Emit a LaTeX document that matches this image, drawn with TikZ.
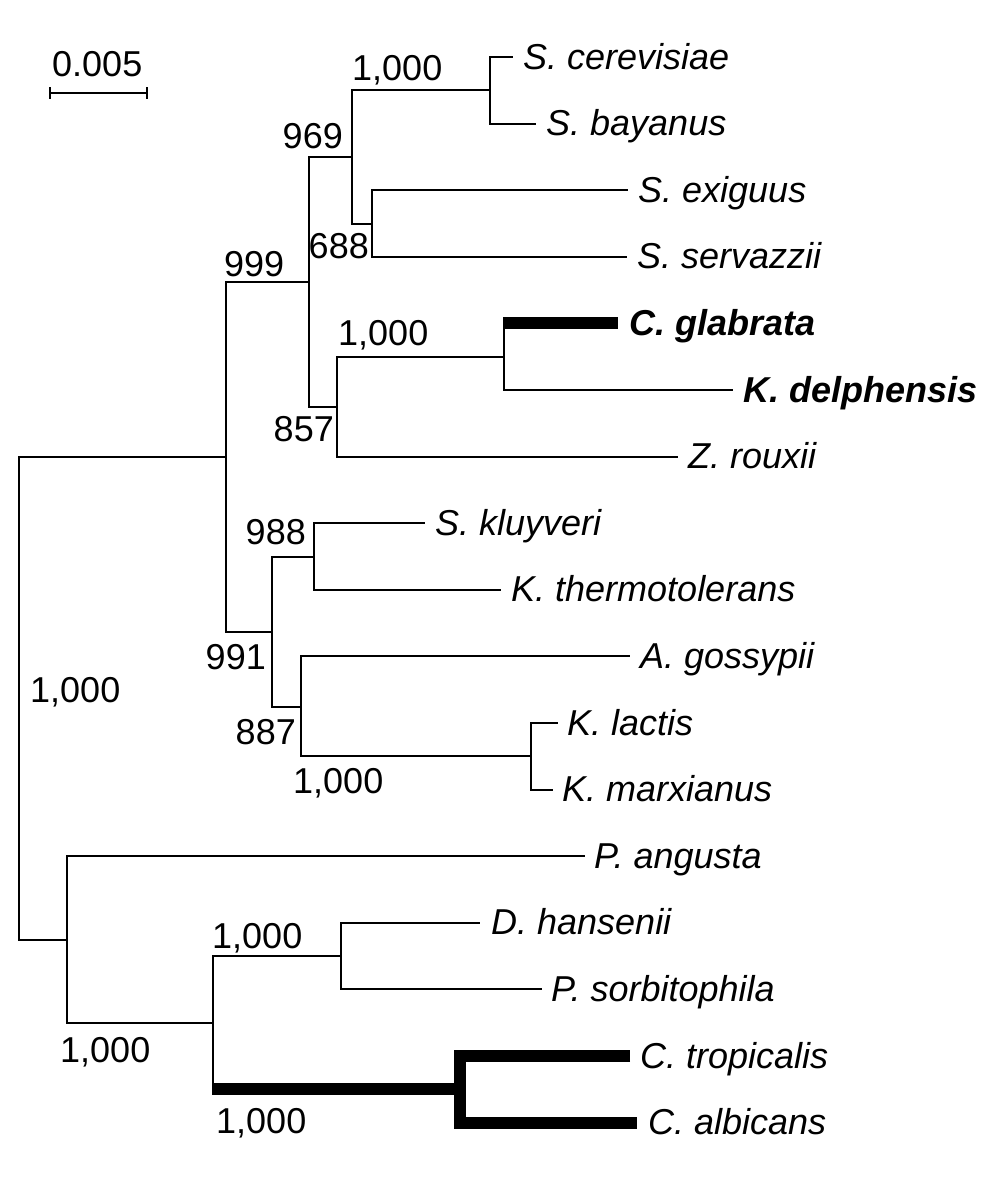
\documentclass[tikz,border=0pt]{standalone}
\usepackage{fontspec}
\setmainfont{Liberation Sans}
\begin{document}
\begin{tikzpicture}[x=1pt,y=-1pt,
  br/.style={line width=2pt, line join=miter, line cap=butt},
  thk/.style={line width=12pt, line join=miter, line cap=butt},
  leaf/.style={inner sep=0pt, anchor=base west, font=\fontsize{36}{43}\selectfont\itshape},
  bleaf/.style={leaf, font=\fontsize{36}{43}\selectfont\bfseries\itshape},
  lab/.style={inner sep=0pt, font=\fontsize{36}{43}\selectfont}]
\useasboundingbox (0,0) rectangle (1000,1186);
% internal nodes
\coordinate (root) at (19,698);
\coordinate (up) at (226,457);
\coordinate (lo) at (67,940);
\coordinate (n999) at (309,282);
\coordinate (n969) at (352,157);
\coordinate (nSS) at (490,90.3);
\coordinate (n688) at (372,223.5);
\coordinate (n857) at (337,406.8);
\coordinate (nCK) at (504,356.7);
\coordinate (n991) at (272,631.5);
\coordinate (n988) at (314,556.5);
\coordinate (n887) at (301,706.5);
\coordinate (nKL) at (531,756.3);
\coordinate (nDC) at (213,1023);
\coordinate (nDP) at (341,956.1);
\coordinate (nCC) at (460,1089);
% leaf tips
\coordinate (cer) at (513,57);
\coordinate (bay) at (536,123.6);
\coordinate (exi) at (628,190.2);
\coordinate (ser) at (627,256.8);
\coordinate (gla) at (618,323.4);
\coordinate (del) at (733,390);
\coordinate (zro) at (678,456.6);
\coordinate (kly) at (425,523.2);
\coordinate (the) at (501,589.8);
\coordinate (gos) at (630,656.4);
\coordinate (lac) at (558,723);
\coordinate (mar) at (553,789.6);
\coordinate (ang) at (585,856.2);
\coordinate (han) at (480,922.8);
\coordinate (sor) at (542,989.4);
\coordinate (tro) at (630,1056);
\coordinate (alb) at (637,1122.6);
% branches
\draw[br] (root) |- (up);
\draw[br] (root) |- (lo);
\draw[br] (up) |- (n999);
\draw[br] (up) |- (n991);
\draw[br] (n999) |- (n969);
\draw[br] (n999) |- (n857);
\draw[br] (n969) |- (nSS);
\draw[br] (n969) |- (n688);
\draw[br] (nSS) |- (cer);
\draw[br] (nSS) |- (bay);
\draw[br] (n688) |- (exi);
\draw[br] (n688) |- (ser);
\draw[br] (n857) |- (nCK);
\draw[br] (n857) |- (zro);
\draw[br] (nCK) -- (nCK |- gla);
\draw[thk] ([xshift=-1pt]nCK |- gla) -- (gla);
\draw[br] (nCK) |- (del);
\draw[br] (n991) |- (n988);
\draw[br] (n991) |- (n887);
\draw[br] (n988) |- (kly);
\draw[br] (n988) |- (the);
\draw[br] (n887) |- (gos);
\draw[br] (n887) |- (nKL);
\draw[br] (nKL) |- (lac);
\draw[br] (nKL) |- (mar);
\draw[br] (lo) |- (ang);
\draw[br] (lo) |- (nDC);
\draw[br] (nDC) |- (nDP);
\draw[br] (nDC) -- (nDC |- nCC);
\draw[thk] ([xshift=-1pt]nDC |- nCC) -- (nCC);
\draw[thk] (tro) -| (nCC) |- (alb);
\draw[br] (nDP) |- (han);
\draw[br] (nDP) |- (sor);
% leaf labels
\node[leaf] (tcer) at ([xshift=10pt,yshift=-12pt]cer) {S. cerevisiae};
\node[leaf] (tbay) at ([xshift=10pt,yshift=-12pt]bay) {S. bayanus};
\node[leaf] (texi) at ([xshift=10pt,yshift=-12pt]exi) {S. exiguus};
\node[leaf] (tser) at ([xshift=10pt,yshift=-12pt]ser) {S. servazzii};
\node[bleaf] (tgla) at ([xshift=11pt,yshift=-12pt]gla) {C. glabrata};
\node[bleaf] (tdel) at ([xshift=10pt,yshift=-12pt]del) {K. delphensis};
\node[leaf] (tzro) at ([xshift=10pt,yshift=-12pt]zro) {Z. rouxii};
\node[leaf] (tkly) at ([xshift=10pt,yshift=-12pt]kly) {S. kluyveri};
\node[leaf] (tthe) at ([xshift=10pt,yshift=-12pt]the) {K. thermotolerans};
\node[leaf] (tgos) at ([xshift=10pt,yshift=-12pt]gos) {A. gossypii};
\node[leaf] (tlac) at ([xshift=9pt,yshift=-12pt]lac) {K. lactis};
\node[leaf] (tmar) at ([xshift=9pt,yshift=-12pt]mar) {K. marxianus};
\node[leaf] (tang) at ([xshift=9pt,yshift=-12pt]ang) {P. angusta};
\node[leaf] (than) at ([xshift=11pt,yshift=-12pt]han) {D. hansenii};
\node[leaf] (tsor) at ([xshift=9pt,yshift=-12pt]sor) {P. sorbitophila};
\node[leaf] (ttro) at ([xshift=10pt,yshift=-12pt]tro) {C. tropicalis};
\node[leaf] (talb) at ([xshift=11pt,yshift=-12pt]alb) {C. albicans};
% support values
\node[lab, anchor=base west] (sSS) at (352,80) {1,000};
\node[lab, anchor=base east] (s969) at (343,148) {969};
\node[lab, anchor=base east] (s688) at (369,258) {688};
\node[lab, anchor=base west] (s999) at (224,276) {999};
\node[lab, anchor=base west] (sCK) at (338,345) {1,000};
\node[lab, anchor=base east] (s857) at (334,441) {857};
\node[lab, anchor=base east] (s988) at (306,544) {988};
\node[lab, anchor=base east] (s991) at (266,669) {991};
\node[lab, anchor=base west] (sroot) at (30,702) {1,000};
\node[lab, anchor=base east] (s887) at (296,744) {887};
\node[lab, anchor=base west] (sKL) at (293,793) {1,000};
\node[lab, anchor=base west] (sDP) at (212,948) {1,000};
\node[lab, anchor=base west] (slo) at (60,1062) {1,000};
\node[lab, anchor=base west] (sCC) at (216,1133) {1,000};
% scale bar
\coordinate (sbL) at (50,93);
\coordinate (sbR) at (147,93);
\draw[br] (sbL) -- (sbR);
\draw[br] ([yshift=6pt]sbL) -- ([yshift=-6pt]sbL);
\draw[br] ([yshift=6pt]sbR) -- ([yshift=-6pt]sbR);
\node[lab, anchor=base west] (sbt) at (52,76) {0.005};
\end{tikzpicture}
\end{document}
